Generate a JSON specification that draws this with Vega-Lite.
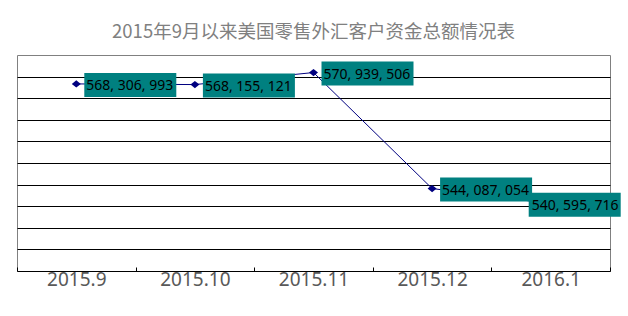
{
  "$schema": "https://vega.github.io/schema/vega-lite/v6.json",
  "autosize": "none",
  "width": 593,
  "height": 216,
  "padding": {"left": 17, "top": 55, "right": 18, "bottom": 45},
  "background": "white",
  "title": {
    "text": "2015年9月以来美国零售外汇客户资金总额情况表",
    "font": "Noto Sans CJK SC",
    "fontSize": 18.5,
    "fontWeight": "normal",
    "color": "#808080",
    "anchor": "middle",
    "offset": 14
  },
  "config": {
    "view": {"stroke": "#808080", "strokeWidth": 1}
  },
  "data": {
    "values": [
      {"month": "2015.9", "value": 568306993, "label": "568, 306, 993"},
      {"month": "2015.10", "value": 568155121, "label": "568, 155, 121"},
      {"month": "2015.11", "value": 570939506, "label": "570, 939, 506"},
      {"month": "2015.12", "value": 544087054, "label": "544, 087, 054"},
      {"month": "2016.1", "value": 540595716, "label": "540, 595, 716"}
    ]
  },
  "encoding": {
    "x": {
      "field": "month",
      "type": "ordinal",
      "sort": null,
      "scale": {"paddingInner": 0, "paddingOuter": 0},
      "axis": {
        "title": null,
        "labelAngle": 0,
        "labelFont": "Noto Sans",
        "labelFontSize": 19,
        "labelColor": "#595959",
        "labelPadding": 3,
        "domainColor": "#000000",
        "domainWidth": 1,
        "tickColor": "#000000",
        "tickBand": "extent",
        "tickSize": -4
      }
    },
    "y": {
      "field": "value",
      "type": "quantitative",
      "scale": {"domain": [525000000, 575000000], "nice": false, "zero": false},
      "axis": {
        "title": null,
        "labels": false,
        "ticks": false,
        "domain": false,
        "grid": true,
        "gridColor": "#000000",
        "gridOpacity": 1,
        "gridWidth": 1,
        "values": [530000000, 535000000, 540000000, 545000000, 550000000, 555000000, 560000000, 565000000, 570000000]
      }
    }
  },
  "layer": [
    {"mark": {"type": "line", "color": "#000080", "strokeWidth": 1}},
    {"mark": {"type": "point", "shape": "M-1,0L0,-0.8L1,0L0,0.8Z", "filled": true, "color": "#000080", "opacity": 1, "size": 81}},
    {
      "transform": [{"filter": "datum.month !== '2016.1'"}],
      "mark": {"type": "point", "shape": "M0.16,-0.22H2V0.26H0.16Z", "filled": true, "fill": "#008080", "opacity": 1, "strokeWidth": 0, "size": 10000}
    },
    {
      "transform": [{"filter": "datum.month === '2016.1'"}],
      "mark": {"type": "point", "shape": "M-0.44,-0.22H1.4V0.26H-0.44Z", "filled": true, "fill": "#008080", "opacity": 1, "strokeWidth": 0, "size": 10000}
    },
    {
      "transform": [{"filter": "datum.month !== '2016.1'"}],
      "mark": {"type": "text", "align": "left", "baseline": "middle", "dx": 10, "dy": 2, "font": "Noto Sans", "fontSize": 14, "color": "#000000"},
      "encoding": {"text": {"field": "label"}}
    },
    {
      "transform": [{"filter": "datum.month === '2016.1'"}],
      "mark": {"type": "text", "align": "left", "baseline": "middle", "dx": -19, "dy": 2, "font": "Noto Sans", "fontSize": 14, "color": "#000000"},
      "encoding": {"text": {"field": "label"}}
    }
  ]
}
